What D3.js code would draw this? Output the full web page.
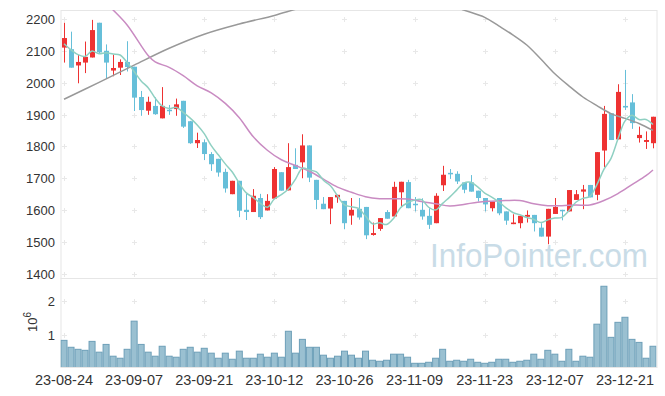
<!DOCTYPE html>
<html>
<head>
<meta charset="utf-8">
<script src="https://cdn.jsdelivr.net/npm/d3@7"></script>
<style>
  body { margin: 0; background: #fff; }
  svg { display: block; font-family: "Liberation Sans", Arial, sans-serif; }
</style>
</head>
<body>
<div id="chart"></div>
<script>
// trading days (yy-mm-dd)
var dates = [
  "23-08-24","23-08-25","23-08-28","23-08-29","23-08-30","23-08-31",
  "23-09-01","23-09-04","23-09-05","23-09-06","23-09-07","23-09-08","23-09-11","23-09-12","23-09-13",
  "23-09-14","23-09-15","23-09-18","23-09-19","23-09-20","23-09-21","23-09-22","23-09-25","23-09-26","23-09-27",
  "23-10-04","23-10-05","23-10-06","23-10-10","23-10-11","23-10-12","23-10-13","23-10-16","23-10-17","23-10-18",
  "23-10-19","23-10-20","23-10-23","23-10-24","23-10-25","23-10-26","23-10-27","23-10-30","23-10-31",
  "23-11-01","23-11-02","23-11-03","23-11-06","23-11-07","23-11-08","23-11-09","23-11-10","23-11-13","23-11-14",
  "23-11-15","23-11-16","23-11-17","23-11-20","23-11-21","23-11-22","23-11-23","23-11-24","23-11-27","23-11-28",
  "23-11-29","23-11-30",
  "23-12-01","23-12-04","23-12-05","23-12-06","23-12-07","23-12-08","23-12-11","23-12-12","23-12-13","23-12-14",
  "23-12-15","23-12-18","23-12-19","23-12-20","23-12-21","23-12-22","23-12-26","23-12-27","23-12-28"
];

var open = [2110,2105,2054,2063,2079,2188,2100,2038,2047,2065,
  2050,1955,1912,1927,1888,1915,1917,1943,1879,1810,
  1813,1776,1761,1720,1650,1692,1601,1594,1638,1599,
  1636,1719,1662,1742,1750,1803,1695,1620,1605,1640,
  1629,1583,1604,1610,1522,1541,1594,1580,1656,1688,
  1620,1601,1582,1559,1678,1717,1714,1687,1687,1661,
  1638,1606,1638,1596,1556,1559,1579,1585,1545,1517,
  1588,1601,1596,1632,1658,1679,1648,1787,1904,1822,
  1927,1938,1826,1814,1810];
var high = [2188,2160,2087,2129,2197,2188,2120,2088,2073,2130,
  2050,1974,1956,1954,1986,1930,1950,1943,1880,1843,
  1822,1782,1761,1730,1692,1692,1651,1666,1651,1650,
  1735,1719,1810,1794,1838,1803,1695,1641,1641,1648,
  1629,1638,1638,1610,1561,1575,1600,1689,1689,1695,
  1641,1637,1606,1653,1739,1729,1722,1687,1710,1661,
  1638,1627,1638,1596,1587,1582,1599,1585,1559,1604,
  1638,1601,1663,1663,1679,1679,1782,1927,1904,1995,
  2040,1964,1862,1847,1893];
var low = [2063,2047,1998,2030,2079,2090,2012,2020,2024,2035,
  1911,1896,1899,1899,1888,1899,1896,1858,1808,1795,
  1757,1723,1705,1655,1650,1578,1569,1594,1572,1599,
  1636,1661,1662,1729,1700,1688,1603,1603,1556,1623,
  1540,1554,1570,1509,1520,1535,1573,1580,1610,1606,
  1596,1570,1541,1559,1660,1698,1682,1653,1658,1627,
  1596,1596,1584,1554,1556,1543,1561,1533,1517,1493,
  1588,1568,1596,1632,1603,1640,1631,1735,1820,1822,
  1914,1855,1812,1792,1794];
var close = [2140,2047,2065,2081,2165,2095,2063,2046,2065,2049,
  1953,1914,1940,1901,1927,1912,1932,1862,1810,1820,
  1776,1744,1718,1668,1692,1598,1594,1645,1578,1629,
  1729,1661,1735,1729,1803,1702,1632,1603,1641,1648,
  1559,1601,1577,1521,1528,1575,1573,1673,1689,1606,
  1616,1580,1554,1645,1711,1714,1690,1664,1658,1638,
  1618,1627,1590,1567,1561,1582,1585,1559,1517,1604,
  1610,1597,1663,1650,1665,1640,1782,1902,1820,1971,
  1922,1873,1836,1820,1893];

// volume, millions of shares
var volume = [0.84,0.635,0.575,0.545,0.81,0.49,0.72,0.37,0.31,0.575,
  1.41,0.72,0.49,0.37,0.665,0.37,0.34,0.575,0.635,0.49,
  0.605,0.46,0.31,0.46,0.28,0.52,0.31,0.31,0.43,0.34,
  0.46,0.34,1.11,0.46,0.87,0.635,0.635,0.40,0.31,0.37,
  0.52,0.40,0.31,0.52,0.25,0.22,0.25,0.43,0.43,0.34,
  0.16,0.16,0.19,0.31,0.575,0.22,0.25,0.22,0.28,0.19,
  0.16,0.19,0.28,0.28,0.19,0.22,0.25,0.43,0.28,0.545,
  0.43,0.22,0.575,0.22,0.37,0.34,1.32,2.445,0.93,1.375,
  1.525,0.87,0.78,0.31,0.665];

// 5-day average for the first days (needs earlier closes)
var ma5Head = [2122, 2103, 2088, 2082];

// 20-day average
var ma20Idx = [0,3,6,7,9,12,13,15,17,19,21,23,25,27,29,31,33,35,37,39,41,43,45,47,49,51,53,55,57,59,61,63,65,67,69,71,73,75,77,79,81,83,84];
var ma20Val = [2370,2305,2250,2228,2181,2085,2065,2048,2022,1990,1968,1935,1890,1830,1788,1758,1740,1722,1697,1672,1656,1642,1636,1636,1635,1627,1620,1613,1618,1625,1628,1630,1630,1620,1614,1614,1616,1616,1630,1652,1680,1708,1726];

// long (120-day) average
var ma120Idx = [0,5,10,15,20,25,30,33,36,40,45,50,55,57,60,62,64,66,68,70,72,74,76,78,80,82,84];
var ma120Val = [1948,2001,2055,2108,2152,2184,2211,2230,2248,2262,2270,2265,2245,2228,2205,2178,2150,2118,2074,2028,1990,1955,1928,1903,1888,1872,1850];

var priceTicks = [1400,1500,1600,1700,1800,1900,2000,2100,2200];
var volTicks = [1, 2];

var svgWidth = 665, svgHeight = 396;
var plotLeft = 60.5, plotRight = 656.5, plotTop = 10, plotMid = 278, plotBottom = 367;

var svg = d3.select("#chart").append("svg")
  .attr("width", svgWidth)
  .attr("height", svgHeight);

var x = d3.scaleBand()
  .domain(d3.range(dates.length))
  .range([plotLeft, plotRight])
  .padding(0);
var cx = i => x(i) + x.bandwidth() / 2;

var y = d3.scaleLinear().domain([1387, 2228]).range([plotMid, plotTop]);
var yv = d3.scaleLinear().domain([0.05, 2.69]).range([plotBottom, plotMid]);

var defs = svg.append("defs");
defs.append("clipPath").attr("id", "clipPrice")
  .append("rect").attr("x", plotLeft).attr("y", plotTop)
  .attr("width", plotRight - plotLeft).attr("height", plotMid - plotTop);
defs.append("clipPath").attr("id", "clipVol")
  .append("rect").attr("x", plotLeft).attr("y", plotMid)
  .attr("width", plotRight - plotLeft).attr("height", plotBottom - plotMid);

// frame
svg.append("rect")
  .attr("x", plotLeft + 0.5).attr("y", plotTop + 0.5)
  .attr("width", plotRight - plotLeft).attr("height", plotBottom - plotTop)
  .attr("fill", "none").attr("stroke", "#e6e6e6");
svg.append("line")
  .attr("x1", plotLeft).attr("x2", plotRight + 1)
  .attr("y1", plotMid + 0.5).attr("y2", plotMid + 0.5)
  .attr("stroke", "#e6e6e6");

// grid crosses
var tickIdx = d3.range(0, dates.length, 10);
var crossG = svg.append("g").attr("stroke", "#e8e8e8").attr("stroke-width", 1);
function cross(px, py) {
  px = Math.round(px) + 0.5; py = Math.round(py) + 0.5;
  crossG.append("line").attr("x1", px - 2.5).attr("x2", px + 2.5).attr("y1", py).attr("y2", py);
  crossG.append("line").attr("x1", px).attr("x2", px).attr("y1", py - 2.5).attr("y2", py + 2.5);
}
tickIdx.forEach(i => {
  priceTicks.forEach(p => cross(cx(i), y(p)));
  volTicks.forEach(v => cross(cx(i), yv(v)));
});

// watermark
svg.append("text")
  .attr("x", 430).attr("y", 267)
  .attr("font-size", 34)
  .attr("fill", "#c9dce7")
  .attr("textLength", 218)
  .attr("lengthAdjust", "spacingAndGlyphs")
  .text("InfoPointer.com");

// volume bars
svg.append("g").attr("clip-path", "url(#clipVol)")
  .selectAll("rect")
  .data(volume)
  .enter()
  .append("rect")
  .attr("x", (d, i) => x(i) + 0.5)
  .attr("y", d => yv(d))
  .attr("width", x.bandwidth() - 1)
  .attr("height", d => plotBottom - yv(d) + 2)
  .attr("fill", "#9ac0d1")
  .attr("stroke", "#6d9fb8")
  .attr("stroke-width", 1);

// candles
var candles = d3.range(dates.length).map(i => ({
  i: i, o: open[i], h: high[i], l: low[i], c: close[i]
}));
var red = "#ee3232", blue = "#66bfd9";
var cg = svg.append("g").attr("clip-path", "url(#clipPrice)");
var candle = cg.selectAll("g").data(candles).enter().append("g");
candle.append("line")
  .attr("x1", d => Math.round(cx(d.i)) + 0.5)
  .attr("x2", d => Math.round(cx(d.i)) + 0.5)
  .attr("y1", d => y(d.h))
  .attr("y2", d => y(d.l))
  .attr("stroke", d => d.c >= d.o ? red : blue)
  .attr("stroke-width", 1);
candle.append("rect")
  .attr("x", d => Math.round(cx(d.i)) - 2)
  .attr("y", d => y(Math.max(d.o, d.c)))
  .attr("width", 5)
  .attr("height", d => Math.max(1.5, Math.abs(y(d.o) - y(d.c))))
  .attr("fill", d => d.c >= d.o ? red : blue);

// moving averages
var ma5 = close.map((c, i) => i < 4 ? ma5Head[i] : d3.mean(close.slice(i - 4, i + 1)));
var lineG = svg.append("g").attr("clip-path", "url(#clipPrice)").attr("fill", "none");

var smooth = d3.line()
  .x(d => cx(d[0]))
  .y(d => y(d[1]))
  .curve(d3.curveCatmullRom);

lineG.append("path")
  .attr("d", smooth(ma120Idx.map((k, j) => [k, ma120Val[j]])))
  .attr("stroke", "#999")
  .attr("stroke-width", 1.5);
lineG.append("path")
  .attr("d", smooth(ma20Idx.map((k, j) => [k, ma20Val[j]])))
  .attr("stroke", "#c98bc2")
  .attr("stroke-width", 1.5);
lineG.append("path")
  .attr("d", smooth(ma5.map((v, i) => [i, v])))
  .attr("stroke", "#8fd0c2")
  .attr("stroke-width", 1.5);

// price axis labels
svg.append("g").selectAll("text")
  .data(priceTicks)
  .enter()
  .append("text")
  .attr("x", 55)
  .attr("y", d => y(d) + 5)
  .attr("text-anchor", "end")
  .attr("font-size", 13)
  .attr("fill", "#333")
  .text(d => d);

// volume axis labels
svg.append("g").selectAll("text")
  .data(volTicks)
  .enter()
  .append("text")
  .attr("x", 55)
  .attr("y", d => yv(d) + 5)
  .attr("text-anchor", "end")
  .attr("font-size", 13)
  .attr("fill", "#333")
  .text(d => d);

var unit = svg.append("text")
  .attr("transform", "translate(37,332) rotate(-90)")
  .attr("font-size", 13)
  .attr("fill", "#333");
unit.append("tspan").text("10");
unit.append("tspan").attr("dy", -6).attr("font-size", 10).text("6");

// date labels
svg.append("g").selectAll("text")
  .data(tickIdx)
  .enter()
  .append("text")
  .attr("x", d => cx(d))
  .attr("y", 385)
  .attr("text-anchor", "middle")
  .attr("font-size", 14.5)
  .attr("fill", "#333")
  .text(d => dates[d]);
</script>
</body>
</html>
